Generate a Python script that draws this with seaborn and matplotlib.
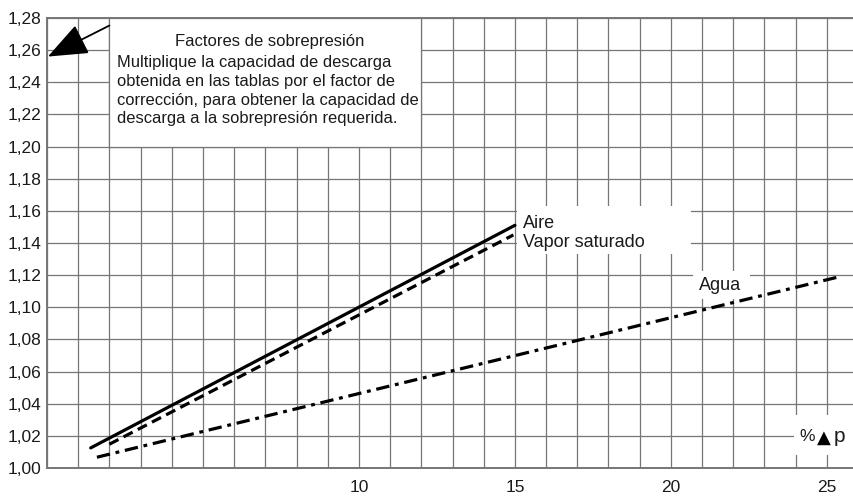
import pandas as pd
import matplotlib.pyplot as plt
import seaborn as sns
from matplotlib.patches import Rectangle
from matplotlib.ticker import MultipleLocator

# readings from the chart (start and end of each straight line)
aire_x = [1.4, 15.0]
aire_y = [1.0125, 1.151]
vapor_x = [2.0, 14.95]
vapor_y = [1.0148, 1.145]
agua_x = [1.6, 25.4]
agua_y = [1.0067, 1.119]

y_ticks = [1.00, 1.02, 1.04, 1.06, 1.08, 1.10, 1.12, 1.14, 1.16, 1.18, 1.20, 1.22, 1.24, 1.26, 1.28]
y_labels = ['1,00', '1,02', '1,04', '1,06', '1,08', '1,10', '1,12', '1,14',
            '1,16', '1,18', '1,20', '1,22', '1,24', '1,26', '1,28']
x_ticks = [10, 15, 20, 25]
x_labels = ['10', '15', '20', '25']

df = pd.concat([
    pd.DataFrame({'p': aire_x, 'factor': aire_y, 'medio': 'Aire'}),
    pd.DataFrame({'p': vapor_x, 'factor': vapor_y, 'medio': 'Vapor saturado'}),
    pd.DataFrame({'p': agua_x, 'factor': agua_y, 'medio': 'Agua'}),
])

sns.set_style('white')
plt.rcParams['font.family'] = ['Liberation Sans', 'DejaVu Sans']

grid_col = '#767676'
txt_col = '#1a1a1a'

fig = plt.figure(figsize=(8.54, 4.96), dpi=100)
ax = fig.add_axes([47 / 854, 28 / 496, 807 / 854, 450 / 496])

sns.lineplot(data=df, x='p', y='factor', hue='medio', style='medio',
             palette={'Aire': 'black', 'Vapor saturado': 'black', 'Agua': 'black'},
             dashes={'Aire': '', 'Vapor saturado': (3.2, 1.8), 'Agua': (4.2, 1.8, 1.2, 1.8)},
             linewidth=2.3, sort=False, estimator=None, legend=False, ax=ax, zorder=3)

ax.set_xlim(0, 25.87)
ax.set_ylim(1.0, 1.28)
ax.set_xticks(x_ticks)
ax.set_xticklabels(x_labels)
ax.xaxis.set_minor_locator(MultipleLocator(1))
ax.set_yticks(y_ticks)
ax.set_yticklabels(y_labels)
ax.tick_params(axis='both', which='both', length=0, labelsize=12.5, colors=txt_col)
ax.tick_params(axis='x', pad=9)
ax.tick_params(axis='y', pad=4)
ax.set_xlabel('')
ax.set_ylabel('')
ax.set_axisbelow(True)
ax.grid(True, which='both', color=grid_col, linewidth=0.9)
for s in ['left', 'bottom', 'top']:
    ax.spines[s].set_color(grid_col)
    ax.spines[s].set_linewidth(1.4)
ax.spines['right'].set_visible(False)

# white panels that hide the grid behind the notes
ax.add_patch(Rectangle((2, 1.20), 10, 0.08, facecolor='white', edgecolor=grid_col,
                       linewidth=0.9, zorder=1.5))
ax.add_patch(Rectangle((15.06, 1.133), 5.58, 0.030, facecolor='white', edgecolor='none', zorder=1.5))
ax.add_patch(Rectangle((20.7, 1.105), 1.85, 0.0175, facecolor='white', edgecolor='none', zorder=1.5))
ax.add_patch(Rectangle((23.95, 1.008), 1.95, 0.025, facecolor='white', edgecolor='none', zorder=1.5))

ax.text(7.15, 1.2656, 'Factores de sobrepresión', ha='center', va='center', fontsize=12, color=txt_col)
ax.text(2.24, 1.2347,
        'Multiplique la capacidad de descarga\n'
        'obtenida en las tablas por el factor de\n'
        'corrección, para obtener la capacidad de\n'
        'descarga a la sobrepresión requerida.',
        ha='left', va='center', fontsize=11.9, linespacing=1.3, color=txt_col)

ax.annotate('', xy=(0.03, 1.256), xytext=(2.0, 1.2753),
            arrowprops=dict(arrowstyle='-|>,head_length=1.25,head_width=0.5',
                            mutation_scale=20, color='black', lw=1.3, shrinkA=0, shrinkB=0),
            annotation_clip=False, zorder=4)

ax.text(15.25, 1.1519, 'Aire', ha='left', va='center', fontsize=13, color=txt_col)
ax.text(15.25, 1.1406, 'Vapor saturado', ha='left', va='center', fontsize=13, color=txt_col)
ax.text(20.9, 1.1138, 'Agua', ha='left', va='center', fontsize=13, color=txt_col)
ax.text(24.12, 1.0194, '%', ha='left', va='center', fontsize=12.5, color=txt_col)
ax.text(24.9, 1.0188, '▲', ha='center', va='center', fontsize=13, color='black',
        family=['DejaVu Sans'])
ax.text(25.22, 1.0194, 'p', ha='left', va='center', fontsize=15, color=txt_col)

fig.savefig('out.png', dpi=100)
